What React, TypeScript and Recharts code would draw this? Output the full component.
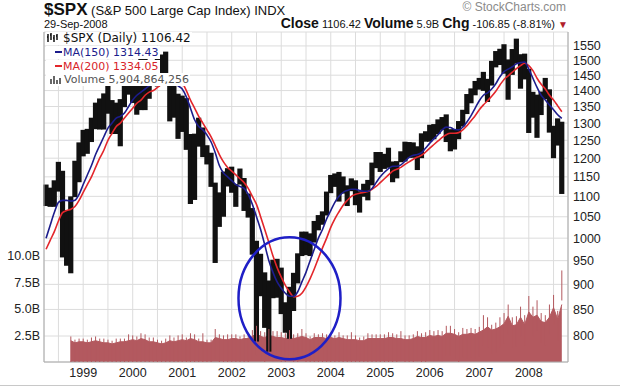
import React from 'react';
import {
  ComposedChart,
  Bar,
  Line,
  Area,
  Scatter,
  XAxis,
  YAxis,
  CartesianGrid,
  ReferenceDot,
} from 'recharts';

// Month categories: Apr 1998 .. Oct 2008 (last one is empty padding)
const MONTH_NAMES = ['Jan', 'Feb', 'Mar', 'Apr', 'May', 'Jun', 'Jul', 'Aug', 'Sep', 'Oct', 'Nov', 'Dec'];
const months: string[] = [];
for (let i = 0; i < 127; i++) {
  const m = (3 + i) % 12;
  const y = 1998 + Math.floor((3 + i) / 12);
  months.push(`${MONTH_NAMES[m]} ${y}`);
}

// Monthly high / low of $SPX (Apr 1998 .. Sep 2008)
const priceHigh = [
  1130, 1122, 1141, 1190, 1166, 1066, 1100, 1193, 1244, // 1998
  1280, 1283, 1316, 1362, 1375, 1391, 1421, 1370, 1362, 1373, 1424, 1473, // 1999
  1478, 1444, 1525, 1520, 1481, 1479, 1517, 1520, 1530, 1437, 1432, 1390, // 2000
  1384, 1376, 1268, 1269, 1316, 1287, 1236, 1215, 1135, 1110, 1164, 1173, // 2001
  1177, 1131, 1172, 1147, 1107, 1071, 994, 965, 925, 908, 952, 954, // 2002
  935, 864, 895, 924, 966, 1015, 1015, 1011, 1040, 1054, 1063, 1112, // 2003
  1155, 1159, 1163, 1151, 1128, 1146, 1141, 1113, 1132, 1142, 1188, 1217, // 2004
  1217, 1212, 1229, 1191, 1192, 1219, 1246, 1245, 1244, 1233, 1270, 1276, // 2005
  1295, 1297, 1311, 1318, 1326, 1282, 1282, 1306, 1340, 1389, 1407, 1431, // 2006
  1441, 1461, 1438, 1498, 1532, 1540, 1556, 1503, 1539, 1576, 1521, 1523, // 2007
  1471, 1396, 1387, 1397, 1441, 1404, 1292, 1314, 1304, // 2008
];
const priceLow = [
  1076, 1074, 1074, 1112, 957, 939, 923, 1098, 1136,
  1205, 1212, 1245, 1282, 1281, 1281, 1328, 1268, 1268, 1233, 1348, 1387,
  1361, 1325, 1339, 1339, 1374, 1420, 1413, 1431, 1419, 1305, 1316, 1254,
  1274, 1223, 1081, 1091, 1232, 1203, 1183, 1124, 945, 1026, 1050, 1125,
  1109, 1074, 1130, 1064, 1048, 963, 790, 876, 815, 772, 872, 873,
  841, 806, 795, 847, 902, 960, 962, 960, 990, 1018, 1031, 1053,
  1108, 1124, 1087, 1107, 1076, 1113, 1078, 1060, 1099, 1090, 1128, 1173,
  1163, 1171, 1174, 1136, 1146, 1189, 1191, 1201, 1201, 1168, 1200, 1246,
  1246, 1253, 1268, 1280, 1245, 1219, 1224, 1253, 1290, 1327, 1360, 1385,
  1403, 1399, 1364, 1416, 1476, 1484, 1455, 1371, 1451, 1489, 1406, 1436,
  1271, 1316, 1257, 1324, 1373, 1272, 1200, 1235, 1106,
];

// MA(150) and MA(200), monthly readings
const ma150 = [
  1000, 1030, 1060, 1085, 1090, 1090, 1088, 1090, 1105,
  1130, 1155, 1180, 1210, 1235, 1260, 1285, 1300, 1315, 1320, 1330, 1350,
  1370, 1385, 1395, 1405, 1415, 1420, 1428, 1435, 1440, 1435, 1425, 1415,
  1405, 1380, 1345, 1310, 1290, 1280, 1265, 1245, 1215, 1180, 1160, 1150,
  1140, 1130, 1125, 1120, 1105, 1080, 1050, 1020, 985, 950, 925, 905,
  892, 882, 876, 876, 885, 905, 925, 950, 975, 1000, 1020, 1045,
  1065, 1085, 1100, 1110, 1115, 1118, 1118, 1115, 1113, 1113, 1120, 1135,
  1150, 1162, 1172, 1178, 1178, 1182, 1192, 1202, 1208, 1210, 1215, 1228,
  1242, 1254, 1266, 1280, 1288, 1287, 1281, 1280, 1288, 1303, 1322, 1345,
  1368, 1385, 1393, 1405, 1422, 1445, 1462, 1470, 1478, 1488, 1492, 1494,
  1470, 1440, 1410, 1385, 1370, 1355, 1340, 1325, 1314,
];
const ma200 = [
  975, 995, 1015, 1040, 1060, 1065, 1068, 1075, 1090,
  1110, 1130, 1150, 1175, 1200, 1222, 1250, 1270, 1290, 1300, 1315, 1330,
  1345, 1360, 1370, 1385, 1395, 1400, 1410, 1420, 1430, 1438, 1440, 1438,
  1425, 1400, 1370, 1345, 1320, 1300, 1280, 1260, 1235, 1210, 1190, 1175,
  1165, 1155, 1145, 1135, 1120, 1100, 1080, 1050, 1020, 990, 960, 935,
  915, 898, 885, 875, 876, 882, 895, 912, 932, 955, 978, 1000,
  1025, 1045, 1062, 1078, 1090, 1100, 1105, 1108, 1110, 1112, 1118, 1125,
  1135, 1145, 1155, 1165, 1170, 1175, 1183, 1190, 1197, 1203, 1208, 1217,
  1228, 1238, 1248, 1258, 1266, 1270, 1270, 1272, 1280, 1292, 1307, 1322,
  1340, 1355, 1368, 1382, 1398, 1418, 1436, 1448, 1460, 1472, 1482, 1490,
  1482, 1465, 1440, 1420, 1405, 1385, 1370, 1352, 1334,
];

// Volume in billions (starts Oct 1998): typical level and monthly spikes
const volume = [
  null, null, null, null, null, null, 2.0, 1.8, 1.9,
  1.9, 1.8, 1.9, 2.0, 1.9, 1.8, 1.8, 1.7, 1.8, 1.9, 1.9, 2.0,
  2.1, 2.0, 2.2, 2.1, 1.9, 1.9, 1.8, 1.7, 1.8, 2.0, 1.9, 2.0,
  2.1, 2.0, 2.2, 2.1, 1.9, 1.9, 1.8, 1.8, 2.3, 2.2, 2.1, 2.1,
  2.2, 2.2, 2.1, 2.2, 2.2, 2.4, 2.7, 2.4, 2.3, 2.5, 2.4, 2.3,
  2.3, 2.2, 2.3, 2.2, 2.3, 2.4, 2.3, 2.1, 2.3, 2.3, 2.3, 2.2,
  2.3, 2.2, 2.3, 2.2, 2.1, 2.1, 2.1, 2.0, 2.0, 2.2, 2.2, 2.2,
  2.2, 2.2, 2.3, 2.3, 2.2, 2.2, 2.1, 2.1, 2.2, 2.4, 2.3, 2.3,
  2.5, 2.4, 2.5, 2.4, 2.7, 2.7, 2.6, 2.4, 2.6, 2.6, 2.7, 2.6,
  2.8, 3.0, 3.3, 3.0, 3.1, 3.3, 3.6, 4.3, 3.4, 3.5, 4.2, 3.5,
  4.7, 4.2, 4.4, 3.8, 3.7, 4.2, 5.1, 4.0, 5.4,
];
const volumePeak = [
  null, null, null, null, null, null, 2.4, 2.1, 2.2,
  2.2, 2.1, 2.3, 2.4, 2.2, 2.2, 2.1, 2.0, 2.2, 2.2, 2.2, 2.6,
  2.5, 2.4, 2.7, 2.6, 2.3, 2.3, 2.1, 2.0, 2.2, 2.5, 2.3, 2.5,
  2.6, 2.3, 2.7, 2.6, 2.2, 2.7, 2.1, 2.1, 3.1, 2.6, 2.5, 2.6,
  2.6, 2.6, 2.4, 2.6, 2.7, 3.0, 3.4, 2.9, 2.8, 3.1, 2.9, 2.9,
  2.8, 2.7, 3.0, 2.6, 2.7, 3.1, 2.7, 2.4, 2.7, 2.6, 2.7, 2.6,
  2.7, 2.5, 2.8, 2.5, 2.5, 2.8, 2.5, 2.3, 2.4, 2.7, 2.6, 2.6,
  2.6, 2.6, 2.8, 2.7, 2.6, 2.9, 2.5, 2.5, 2.6, 2.9, 2.7, 2.8,
  3.0, 2.9, 3.0, 2.9, 3.4, 3.4, 3.1, 2.8, 3.2, 3.1, 3.2, 3.1,
  3.3, 4.4, 4.2, 3.5, 3.7, 4.2, 4.6, 5.4, 4.2, 4.3, 5.2, 4.4,
  6.2, 5.2, 5.8, 4.6, 4.4, 5.4, 6.3, 4.8, 8.6,
];

const priceTicks = [800, 850, 900, 950, 1000, 1050, 1100, 1150, 1200, 1250, 1300, 1350, 1400, 1450, 1500, 1550];
const volumeTicks = [2.5, 5, 7.5, 10];
const gridMonths = months.filter((m) => m.startsWith('Jan') || m.startsWith('Jul'));

const data = months.map((month, i) => ({
  month,
  range: i < priceHigh.length ? [priceLow[i], priceHigh[i]] : null,
  ma150: i < ma150.length ? ma150[i] : null,
  ma200: i < ma200.length ? ma200[i] : null,
  volume: i < volume.length ? volume[i] : null,
  volumePeak: i < volumePeak.length ? volumePeak[i] : null,
}));

const VOL_COLOR = '#b3595f';
const FONT = '"Liberation Sans", Arial, sans-serif';
const tickStyle = { fontSize: 12.5, fill: '#222', fontFamily: FONT };

const circleShape = (props: any) => (
  <ellipse cx={props.cx} cy={props.cy} rx={51} ry={61} fill="none" stroke="#1f1fc6" strokeWidth={2.5} />
);

// thin daily-volume spike sticking out of the filled volume area
const spikeShape = (props: any) =>
  props.cy == null ? <g /> : <rect x={props.cx - 0.5} y={props.cy} width={1} height={30} fill={VOL_COLOR} />;

// monthly high-low block, widened a touch so neighbouring months join up
const rangeShape = (props: any) =>
  props.height == null ? <g /> : (
    <rect x={props.x - 0.6} y={props.y} width={props.width + 1.2} height={Math.max(props.height, 1)} fill="#111" />
  );

const legendRow = (top: number): React.CSSProperties => ({
  position: 'absolute',
  left: 46,
  top,
  height: 13,
  lineHeight: '13px',
  background: '#fff',
  paddingRight: 1,
  fontFamily: '"DejaVu Sans", Verdana, sans-serif',
  whiteSpace: 'nowrap',
});

export default function App() {
  return (
    <div style={{ position: 'absolute', left: 0, top: 0, width: 620, height: 389, background: '#fff', overflow: 'hidden' }}>
      <div style={{ position: 'absolute', left: 44, top: 1, height: 18, lineHeight: '18px', fontFamily: FONT, whiteSpace: 'nowrap', color: '#111' }}>
        <span style={{ fontSize: 17, fontWeight: 'bold' }}>$SPX</span>
        <span style={{ fontSize: 13 }}> (S&amp;P 500 Large Cap Index) INDX</span>
      </div>
      <div style={{ position: 'absolute', left: 44, top: 19, lineHeight: '11px', fontFamily: FONT, fontSize: 11, color: '#111' }}>
        29-Sep-2008
      </div>
      <div style={{ position: 'absolute', right: 54, top: 1, lineHeight: '12px', fontFamily: FONT, fontSize: 12, color: '#8a8a8a' }}>
        © StockCharts.com
      </div>
      <div style={{ position: 'absolute', right: 52, top: 17, lineHeight: '13px', fontFamily: FONT, fontSize: 11, color: '#111', whiteSpace: 'nowrap' }}>
        <b style={{ fontSize: 14 }}>Close</b> 1106.42 <b style={{ fontSize: 14 }}>Volume</b> 5.9B{' '}
        <b style={{ fontSize: 14 }}>Chg</b> -106.85 (-8.81%) <span style={{ color: '#b0202a', fontSize: 10 }}>▼</span>
      </div>

      <ComposedChart
        width={620}
        height={389}
        data={data}
        margin={{ top: 32, right: 0, bottom: 0, left: 0 }}
        barCategoryGap={0}
        barGap={0}
        style={{ position: 'absolute', left: 0, top: 0 }}
      >
        <CartesianGrid xAxisId="main" yAxisId="price" stroke="#dcdcdc" strokeWidth={1} />
        <XAxis
          xAxisId="main"
          dataKey="month"
          ticks={gridMonths}
          interval={0}
          tickFormatter={(m: string) => (m.startsWith('Jan') ? m.slice(4) : '')}
          height={27}
          tickSize={0}
          tickMargin={6}
          tickLine={false}
          axisLine={{ stroke: '#aaa' }}
          tick={tickStyle}
        />
        <XAxis xAxisId="top" dataKey="month" orientation="top" height={0} tick={false} tickLine={false} axisLine={{ stroke: '#aaa' }} />
        <YAxis
          yAxisId="vol"
          orientation="left"
          width={44}
          domain={[0, 31]}
          ticks={volumeTicks}
          interval={0}
          tickFormatter={(v: number) => `${v.toFixed(1)}B`}
          tickSize={0}
          tickMargin={4}
          tickLine={false}
          axisLine={{ stroke: '#aaa' }}
          tick={tickStyle}
          allowDataOverflow
        />
        <YAxis
          yAxisId="price"
          orientation="right"
          width={52}
          scale="log"
          domain={[754, 1600]}
          ticks={priceTicks}
          interval={0}
          tickSize={0}
          tickMargin={5}
          tickLine={false}
          axisLine={{ stroke: '#aaa' }}
          tick={tickStyle}
          allowDataOverflow
        />
        <Area
          xAxisId="main"
          yAxisId="vol"
          dataKey="volume"
          type="linear"
          fill={VOL_COLOR}
          fillOpacity={1}
          stroke={VOL_COLOR}
          strokeWidth={1}
          isAnimationActive={false}
        />
        <Scatter xAxisId="main" yAxisId="vol" dataKey="volumePeak" shape={spikeShape} isAnimationActive={false} />
        <Bar xAxisId="main" yAxisId="price" dataKey="range" shape={rangeShape} fill="#111" isAnimationActive={false} />
        <Line xAxisId="main" yAxisId="price" dataKey="ma200" type="monotone" stroke="#e3262b" strokeWidth={1.6} dot={false} isAnimationActive={false} />
        <Line xAxisId="main" yAxisId="price" dataKey="ma150" type="monotone" stroke="#1c1c8c" strokeWidth={1.6} dot={false} isAnimationActive={false} />
        <ReferenceDot xAxisId="main" yAxisId="price" x="Mar 2003" y={872} r={0} shape={circleShape} />
      </ComposedChart>

      <div style={{ ...legendRow(32), fontSize: 12, color: '#111' }}>
        <svg width={14} height={11} style={{ verticalAlign: -1, marginRight: 3 }}>
          <path d="M2 2v8M5 1v7M8 3v7M11 2v6M1 5h1M4 3h1M7 6h1M10 4h1" stroke="#111" strokeWidth={1.5} />
        </svg>
        $SPX (Daily) 1106.42
      </div>
      <div style={{ ...legendRow(46), fontSize: 11, color: '#1c1c8c' }}>
        <span style={{ display: 'inline-block', width: 7, height: 2, background: '#1c1c8c', verticalAlign: 3, margin: '0 1px 0 9px' }} />
        MA(150) 1314.43
      </div>
      <div style={{ ...legendRow(59.5), fontSize: 11, color: '#d8232a' }}>
        <span style={{ display: 'inline-block', width: 7, height: 2, background: '#e3262b', verticalAlign: 3, margin: '0 1px 0 9px' }} />
        MA(200) 1334.05
      </div>
      <div style={{ ...legendRow(73), fontSize: 11, color: '#555' }}>
        <svg width={12} height={10} style={{ verticalAlign: -1, marginRight: 3, marginLeft: 3 }}>
          <path d="M2 10V5M5 10V2M8 10V6M11 10V4" stroke="#666" strokeWidth={2} />
        </svg>
        Volume 5,904,864,256
      </div>

      <div style={{ position: 'absolute', left: 0, top: 385, width: 620, height: 1, background: '#c8c8c8' }} />
    </div>
  );
}
